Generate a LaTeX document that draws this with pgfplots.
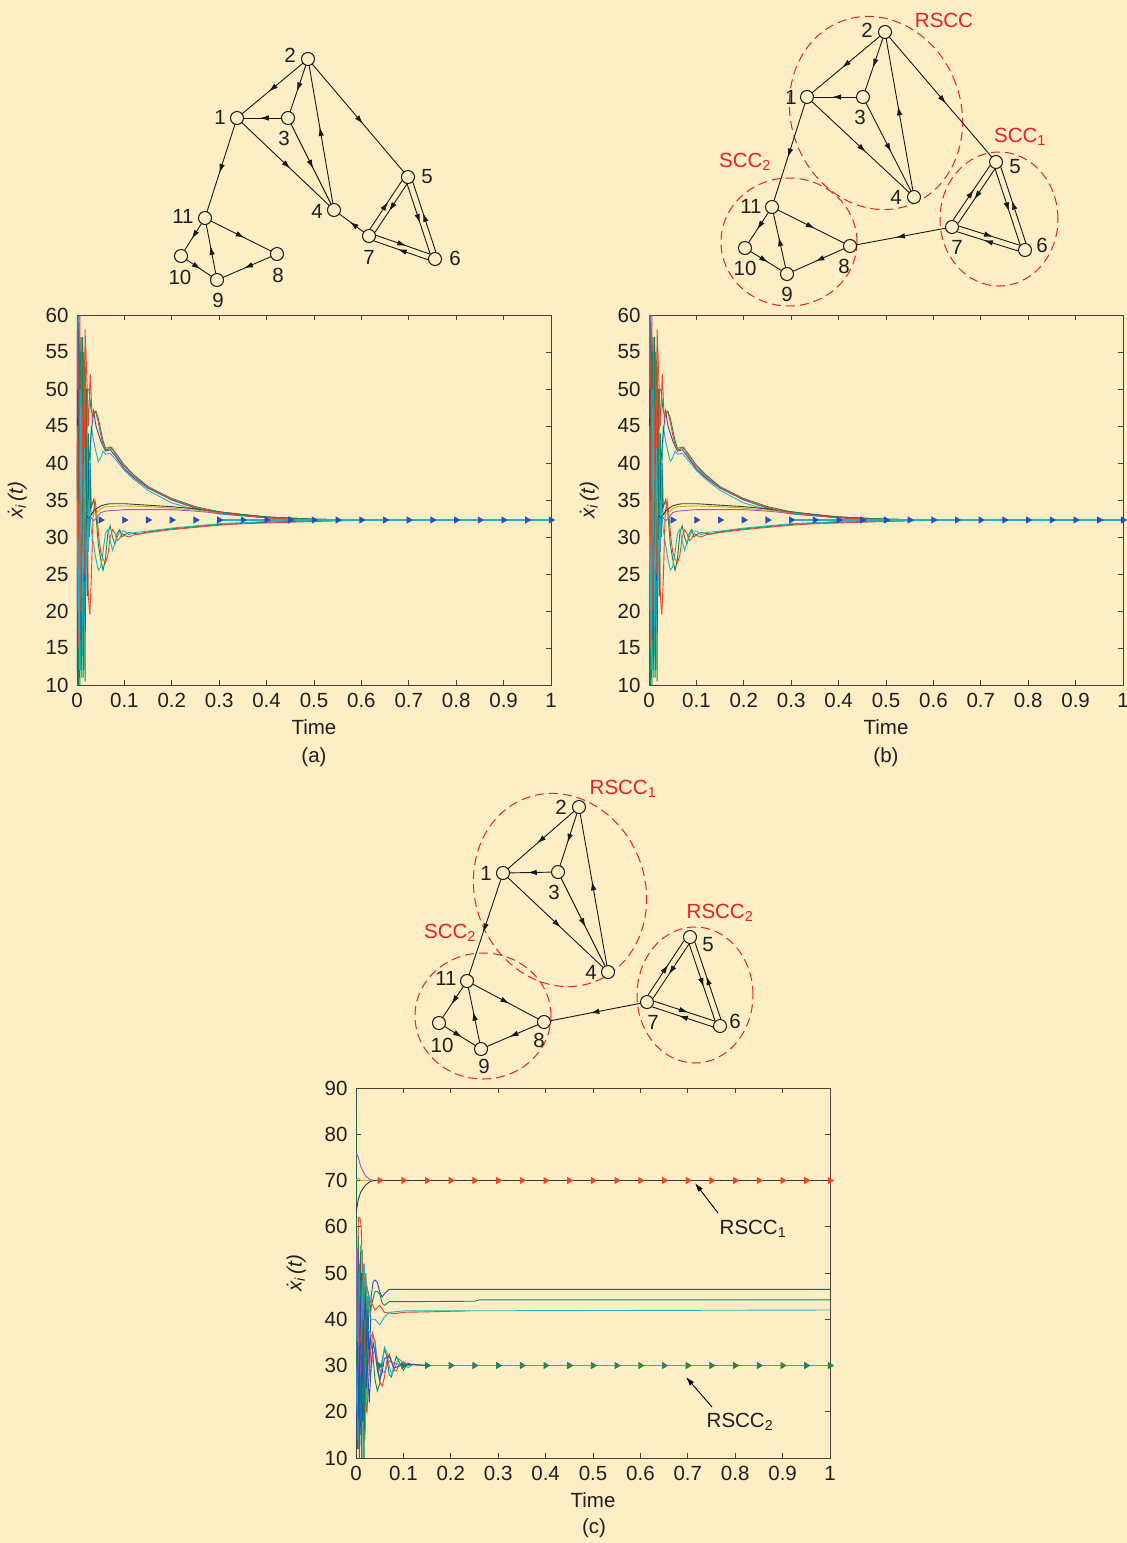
\documentclass[border=0pt]{standalone}
\usepackage{fontspec}
\setmainfont{Liberation Sans}
\usepackage{pgfplots}
\pgfplotsset{compat=1.18}
\usetikzlibrary{decorations.markings,arrows.meta,calc}
\definecolor{bg}{HTML}{FDEEC6}
\definecolor{axc}{HTML}{4A4038}
\definecolor{txt}{HTML}{231F20}
\definecolor{cR}{HTML}{F0452A}
\definecolor{cG}{HTML}{0A8A50}
\definecolor{cB}{HTML}{2A4FB8}
\definecolor{cC}{HTML}{19B5C8}
\definecolor{cM}{HTML}{B050C0}
\definecolor{cO}{HTML}{B5B52A}
\definecolor{cK}{HTML}{3A3A3A}
\definecolor{lred}{HTML}{E8202A}
\newcommand\fs{\fontsize{20.5}{24}\selectfont}
\newcommand\ylab{\textit{ẋ\textsubscript{i}\,(t)}}

\pgfplotsset{pan/.style={scale only axis, width=474pt, height=370pt, xmin=0, xmax=1,
  xtick={0,0.1,0.2,0.3,0.4,0.5,0.6,0.7,0.8,0.9,1}, tick align=inside, tick pos=both,
  major tick length=5pt, axis line style={draw=axc,line width=0.8pt},
  every tick/.style={draw=axc,line width=0.8pt},
  tick label style={font=\fs, text=txt}, label style={font=\fs, text=txt},
  /pgf/number format/assume math mode=true, xticklabel style={/pgf/number format/fixed, yshift=-5pt},
  yticklabel style={xshift=-5pt},
  xlabel={Time}, ylabel={\ylab}, anchor=south west,
  xlabel style={yshift=-5pt}, ylabel style={yshift=12pt},
  every axis plot/.append style={line width=0.9pt}}}
\pgfplotsset{mk/.style={only marks, mark=triangle*, mark size=3.3pt, mark options={rotate=-90}}}

\newcommand\abcurves{%
\addplot[cM] coordinates {(0.0005,20)(0.0025,55)(0.0045,15)(0.0065,50)(0.0085,20)(0.0105,45)(0.013,25)(0.016,40)(0.02,30)(0.024,33)};
\addplot[cO] coordinates {(0.001,58)(0.003,22)(0.005,52)(0.007,26)(0.009,46)(0.012,30)(0.015,38)(0.02,33)};
\addplot[cK] coordinates {(0.0015,12)(0.0035,45)(0.0055,18)(0.0075,42)(0.0095,24)(0.012,38)(0.015,30)(0.02,34)};
\addplot[cB] coordinates {(0.0005,58)(0.002,12)(0.0035,57)(0.005,11)(0.0065,55)(0.008,14)(0.0095,50)(0.011,18)(0.013,47)(0.015,22)(0.018,42)(0.022,30)(0.026,36)(0.03,33)};
\addplot[cG] coordinates {(0,60)(0.002,10)(0.004,59)(0.006,10)(0.008,57)(0.010,11)(0.012,56)(0.014,12)(0.016,54)(0.017,10.5)(0.020,50)(0.022,22)(0.024,44)(0.026,30)(0.028,40)(0.03,34)(0.035,35)(0.04,33)(0.045,29)(0.05,27)(0.055,25.5)(0.06,27)(0.065,30.5)(0.07,31.5)(0.075,30)(0.08,29)(0.085,30.5)(0.09,31)(0.095,30)(0.1,30.3)(0.11,30.6)(0.13,30.4)(0.15,30.7)(0.2,31.1)(0.3,31.7)(0.4,32)(0.5,32.2)(0.6,32.3)};
\addplot[cC] coordinates {(0,12)(0.0015,60)(0.003,10)(0.005,58)(0.007,12)(0.009,55)(0.011,14)(0.013,52)(0.015,18)(0.017,48)(0.019,22)(0.021,44)(0.024,28)(0.027,38)(0.03,45)(0.035,43)(0.04,41.5)(0.045,40.2)(0.05,40.7)(0.055,41.6)(0.06,41.2)(0.07,41.3)(0.08,40.6)(0.1,39)(0.12,37.8)(0.15,36.3)(0.2,34.6)(0.25,33.7)(0.3,33.1)(0.4,32.6)(0.5,32.35)(0.6,32.3)};
\addplot[cB] coordinates {(0,40)(0.001,10)(0.0025,60)(0.004,14)(0.006,56)(0.008,16)(0.01,53)(0.012,20)(0.014,50)(0.016,24)(0.018,45)(0.021,28)(0.025,40)(0.03,44)(0.035,47)(0.04,45)(0.045,44)(0.05,43)(0.06,41.6)(0.07,41.8)(0.08,41)(0.1,39.2)(0.12,38)(0.15,36.6)(0.2,35)(0.25,33.9)(0.3,33.2)(0.4,32.6)(0.5,32.35)(0.6,32.3)};
\addplot[cR] coordinates {(0,30)(0.002,58)(0.004,18)(0.006,60)(0.008,20)(0.01,57)(0.012,22)(0.014,55)(0.016,25)(0.018,53)(0.02,40)(0.024,22)(0.027,19.5)(0.03,24)(0.034,33)(0.038,35)(0.042,33)(0.046,30)(0.05,28)(0.055,27)(0.06,26.5)(0.065,27.5)(0.07,30)(0.075,31)(0.08,30.5)(0.085,29.5)(0.09,29.8)(0.095,30.5)(0.1,30.2)(0.11,30)(0.12,30.3)(0.15,30.6)(0.2,31)(0.25,31.3)(0.3,31.6)(0.35,31.8)(0.4,31.9)(0.5,32.1)(0.6,32.25)(0.7,32.3)};
\addplot[cM] coordinates {(0,55)(0.002,20)(0.004,50)(0.006,25)(0.008,45)(0.010,28)(0.013,38)(0.016,32)(0.02,34)(0.025,33)(0.035,32.2)(0.04,32.5)(0.05,33.3)(0.06,33.5)(0.1,33.7)(0.2,33.7)(0.25,33.5)(0.3,33.2)(0.4,32.7)(0.5,32.4)(0.6,32.3)};
\addplot[cO] coordinates {(0,25)(0.002,48)(0.004,22)(0.006,45)(0.008,28)(0.01,40)(0.013,30)(0.016,36)(0.02,33)(0.03,33)(0.04,33.2)(0.05,33.8)(0.06,34.1)(0.1,34.2)(0.15,34.1)(0.2,33.9)(0.25,33.6)(0.3,33.3)(0.4,32.7)(0.5,32.4)(0.6,32.3)};
\addplot[cK] coordinates {(0,35)(0.002,50)(0.004,30)(0.006,45)(0.008,32)(0.01,40)(0.012,33)(0.015,36)(0.02,33)(0.025,32.5)(0.03,33)(0.035,33.5)(0.04,33.8)(0.05,34.2)(0.06,34.4)(0.07,34.5)(0.1,34.5)(0.15,34.3)(0.2,34.1)(0.25,33.8)(0.3,33.4)(0.35,33)(0.4,32.7)(0.5,32.4)(0.6,32.3)};
\addplot[cG] coordinates {(0.003,10)(0.006,55)(0.009,12)(0.012,57)(0.013,11)(0.016,52)(0.019,30)(0.022,50)(0.025,50)(0.03,47)(0.035,46.5)(0.04,47)(0.045,46)(0.05,44.5)(0.055,43)(0.06,42)(0.07,42.1)(0.08,41.5)(0.1,39.7)(0.12,38.4)(0.15,36.8)(0.2,35.2)(0.25,34.1)(0.3,33.4)(0.4,32.7)(0.5,32.4)(0.6,32.3)};
\addplot[cR] coordinates {(0.001,45)(0.003,15)(0.005,50)(0.008,20)(0.011,48)(0.014,28)(0.017,58)(0.02,53)(0.024,45)(0.028,52)(0.032,46)(0.036,47)(0.04,46.8)(0.045,45.5)(0.05,43.8)(0.055,42.5)(0.06,41.8)(0.065,41.8)(0.07,42.2)(0.075,42)(0.08,41.2)(0.09,40.3)(0.1,39.5)(0.12,38.2)(0.14,37.2)(0.16,36.4)(0.18,35.7)(0.2,35.1)(0.22,34.6)(0.25,34)(0.28,33.5)(0.3,33.3)(0.35,32.9)(0.4,32.6)(0.45,32.45)(0.5,32.35)(0.55,32.3)};
\addplot[cC] coordinates {(0.002,30)(0.005,12)(0.008,50)(0.012,18)(0.016,42)(0.02,26)(0.025,35)(0.03,31)(0.035,29)(0.04,27)(0.045,25.5)(0.05,26)(0.055,28)(0.06,30.5)(0.065,31)(0.07,29.5)(0.075,28.2)(0.08,29.2)(0.09,30.8)(0.1,30.8)(0.11,30.3)(0.12,30.6)(0.15,30.8)(0.2,31.2)(0.3,31.8)(0.4,32.1)(0.5,32.25)(0.6,32.3)};
\addplot[cC, line width=1.4pt] coordinates {(0.3,32.3)(1,32.3)};
\addplot[cB, mk] coordinates {(0.05,32.3)(0.1,32.3)(0.15,32.3)(0.2,32.3)(0.25,32.3)(0.3,32.3)(0.35,32.3)(0.4,32.3)(0.45,32.3)(0.5,32.3)(0.55,32.3)(0.6,32.3)(0.65,32.3)(0.7,32.3)(0.75,32.3)(0.8,32.3)(0.85,32.3)(0.9,32.3)(0.95,32.3)(1,32.3)};
}

\tikzset{
 edge/.style={line width=0.9pt, black!90, shorten >=6.5pt, shorten <=6.5pt},
 arr/.style={postaction={decorate}, decoration={markings, mark=at position #1 with {\arrow{Latex[length=9pt,width=5.5pt]}}}},
 arr/.default=0.55,
 vtx/.style={line width=1pt, black!90, fill=bg},
 num/.style={font=\fs, text=txt, inner sep=0pt},
 red/.style={font=\fs, text=lred, inner sep=0pt},
 rc/.style={lred, line width=1pt, dash pattern=on 9pt off 5pt}
}
\newcommand\E[2]{\draw[edge,arr] (#1) -- (#2);}
\newcommand\D[4]{\draw[edge,arr] ($(#1)!3pt!#3:(#2)$) -- ($(#2)!3pt!#4:(#1)$);}
\newcommand\gedges[2]{%
 \E{#1-2}{#1-1}\E{#1-2}{#1-3}\E{#1-3}{#1-1}\E{#1-1}{#1-4}\E{#1-3}{#1-4}
 \E{#1-4}{#1-2}\E{#1-1}{#1-11}\E{#1-7}{#1-#2}\E{#1-11}{#1-8}\E{#1-8}{#1-9}\E{#1-9}{#1-11}
 \E{#1-11}{#1-10}\E{#1-10}{#1-9}
 \D{#1-7}{#1-5}{90}{-90}\D{#1-5}{#1-7}{90}{-90}
 \D{#1-5}{#1-6}{-90}{90}\D{#1-6}{#1-5}{-90}{90}
 \D{#1-7}{#1-6}{90}{-90}\D{#1-6}{#1-7}{90}{-90}
}
\newcommand\gnodes[1]{\foreach \k in {1,...,11}{\draw[vtx] (#1-\k) circle[radius=6.5pt];}}

\begin{document}
\begin{tikzpicture}
\path[use as bounding box, fill=bg] (0,0) rectangle (1127pt,-1543pt);

\begin{axis}[pan, at={(77pt,-685pt)}, ymin=10, ymax=60, ytick={10,15,...,60}]
\abcurves
\end{axis}
\begin{axis}[pan, at={(649pt,-685pt)}, ymin=10, ymax=60, ytick={10,15,...,60}]
\abcurves
\end{axis}

\begin{axis}[pan, at={(356pt,-1458pt)}, ymin=10, ymax=90, ytick={10,20,...,90}]
\addplot[cG] coordinates {(0,90)(0.001,40)(0.003,12)(0.005,58)(0.007,10)(0.009,56)(0.011,12)(0.013,55)(0.015,10)(0.017,52)(0.019,14)(0.021,50)(0.023,20)(0.025,45)(0.028,30)(0.03,36)(0.035,33)(0.04,27)(0.045,24.5)(0.05,26)(0.055,31)(0.06,33.5)(0.065,32)(0.07,28)(0.075,27.5)(0.08,30)(0.085,32)(0.09,31)(0.1,29)(0.11,30.5)(0.12,30.2)(0.15,30)(0.2,30)};
\addplot[cB] coordinates {(0,50)(0.002,15)(0.004,55)(0.006,12)(0.008,52)(0.01,15)(0.012,50)(0.014,18)(0.016,48)(0.018,20)(0.02,45)(0.022,25)(0.025,42)(0.028,28)(0.032,45)(0.036,48)(0.04,48.5)(0.045,48)(0.05,46)(0.055,44.8)(0.06,45.5)(0.07,46.5)(1,46.5)};
\addplot[cC] coordinates {(0,20)(0.002,52)(0.004,14)(0.006,50)(0.008,18)(0.01,47)(0.013,22)(0.016,45)(0.02,28)(0.025,38)(0.03,37)(0.035,36)(0.04,35.5)(0.045,31)(0.05,27)(0.055,30)(0.06,34)(0.065,33)(0.07,30)(0.075,28)(0.08,29)(0.09,31.5)(0.1,30.5)(0.11,29.5)(0.12,30.3)(0.15,30)};
\addplot[cR] coordinates {(0.002,40)(0.005,62)(0.008,62)(0.011,60)(0.013,52)(0.016,45)(0.018,35)(0.02,22)(0.023,20)(0.026,25)(0.03,32)(0.035,37)(0.04,35)(0.045,30)(0.05,26.5)(0.055,25.5)(0.06,27.5)(0.065,31)(0.07,32.5)(0.075,31)(0.08,29)(0.085,28.8)(0.09,30)(0.1,30.8)(0.11,30)(0.12,30.2)(0.15,30)(0.2,30)};
\addplot[cG] coordinates {(0.001,30)(0.004,50)(0.007,12)(0.01,48)(0.012,10)(0.014,50)(0.017,10)(0.02,47)(0.023,30)(0.026,46)(0.03,42)(0.035,44)(0.04,46)(0.045,46)(0.05,45.5)(0.055,43.5)(0.06,43)(0.07,43.8)(0.1,43.8)(0.25,43.9)(0.26,44.2)(1,44.2)};
\addplot[cM] coordinates {(0.001,55)(0.004,25)(0.007,50)(0.01,28)(0.013,48)(0.016,40)(0.02,40)(0.025,32)(0.03,28)(0.035,32)(0.04,33.5)(0.05,29)(0.06,28.5)(0.07,31)(0.08,30.5)(0.1,30)};
\addplot[cB] coordinates {(0.003,35)(0.006,18)(0.009,45)(0.012,22)(0.016,38)(0.02,45)(0.024,30)(0.028,22)(0.032,30)(0.036,35)(0.04,33)(0.045,29)(0.05,27)(0.055,28.5)(0.06,31.5)(0.07,32)(0.08,29.5)(0.09,29.8)(0.1,30.3)(0.15,30)};
\addplot[cR] coordinates {(0.01,35)(0.015,50)(0.02,48)(0.025,46)(0.03,44)(0.04,42)(0.05,43)(0.06,41.5)(0.08,41.2)(0.1,41.5)(0.15,41.6)(0.23,41.8)};
\addplot[cC] coordinates {(0.012,40)(0.016,52)(0.02,49)(0.025,46)(0.03,40)(0.035,40)(0.04,40)(0.05,38.8)(0.06,40.5)(0.07,41.5)(0.1,41.8)(1,42)};
\addplot[cO] coordinates {(0,70)(0.005,70.5)(0.01,70)(0.02,70)(0.03,70)};
\addplot[cM] coordinates {(0,76)(0.005,75)(0.01,73)(0.02,71)(0.03,70.2)(0.04,70)};
\addplot[cK] coordinates {(0,63)(0.005,66)(0.01,67.5)(0.02,69)(0.03,69.8)(0.04,70)(1,70)};
\addplot[cB, line width=1.3pt] coordinates {(0.07,46.5)(1,46.5)};
\addplot[cC, line width=1.2pt] coordinates {(0.15,30)(1,30)};
\addplot[cR, mk] coordinates {(0.05,70)(0.1,70)(0.15,70)(0.2,70)(0.25,70)(0.3,70)(0.35,70)(0.4,70)(0.45,70)(0.5,70)(0.55,70)(0.6,70)(0.65,70)(0.7,70)(0.75,70)(0.8,70)(0.85,70)(0.9,70)(0.95,70)(1,70)};
\addplot[cG, mk] coordinates {(0.05,30)(0.1,30)(0.15,30)(0.2,30)(0.25,30)(0.3,30)(0.35,30)(0.4,30)(0.45,30)(0.5,30)(0.55,30)(0.6,30)(0.65,30)(0.7,30)(0.75,30)(0.8,30)(0.85,30)(0.9,30)(0.95,30)(1,30)};
\end{axis}

\begin{scope}[x=1pt,y=-1pt]
\node[num] at (314,757) {(a)};
\node[num] at (886,757) {(b)};
\node[num] at (594,1528) {(c)};
\draw[line width=0.9pt, -{Latex[length=9pt,width=5.5pt]}] (718,1213) -- (695,1183);
\node[num] at (753,1229) {RSCC\textsubscript{1}};
\draw[line width=0.9pt, -{Latex[length=9pt,width=5.5pt]}] (712,1407) -- (686,1377);
\node[num] at (740,1422) {RSCC\textsubscript{2}};

% graph (a)
\coordinate (a-1) at (237,118); \coordinate (a-2) at (308,59); \coordinate (a-3) at (288,118);
\coordinate (a-4) at (334,210); \coordinate (a-5) at (408,177); \coordinate (a-6) at (435,259);
\coordinate (a-7) at (369,236); \coordinate (a-8) at (277,254); \coordinate (a-9) at (217,280);
\coordinate (a-10) at (181,256); \coordinate (a-11) at (205,218);
\gedges{a}{4}\E{a-2}{a-5}\gnodes{a}
\node[num] at (220,117) {1}; \node[num] at (290,55) {2}; \node[num] at (284,138) {3};
\node[num] at (317,211) {4}; \node[num] at (427,177) {5}; \node[num] at (455,258) {6};
\node[num] at (369,257) {7}; \node[num] at (278,275) {8}; \node[num] at (218,300) {9};
\node[num] at (180,277) {10}; \node[num] at (183,216) {11};

% graph (b)
\coordinate (b-1) at (807,97); \coordinate (b-2) at (885,32); \coordinate (b-3) at (863,97);
\coordinate (b-4) at (914,197); \coordinate (b-5) at (996,162); \coordinate (b-6) at (1025,250);
\coordinate (b-7) at (952,227); \coordinate (b-8) at (850,246); \coordinate (b-9) at (787,274);
\coordinate (b-10) at (745,248); \coordinate (b-11) at (772,207);
\draw[rc, rotate around={20:(876,113)}] (876,113) ellipse [x radius=85pt, y radius=98pt];
\draw[rc] (789,242) ellipse [x radius=68pt, y radius=64pt];
\draw[rc] (999,219) ellipse [x radius=59pt, y radius=67pt];
\gedges{b}{8}\E{b-2}{b-5}\gnodes{b}
\node[num] at (791,97) {1}; \node[num] at (867,30) {2}; \node[num] at (860,117) {3};
\node[num] at (896,197) {4}; \node[num] at (1015,167) {5}; \node[num] at (1042,245) {6};
\node[num] at (957,247) {7}; \node[num] at (844,266) {8}; \node[num] at (787,294) {9};
\node[num] at (745,268) {10}; \node[num] at (751,206) {11};
\node[red] at (944,20) {RSCC};
\node[red] at (1020,137) {SCC\textsubscript{1}};
\node[red] at (745,162) {SCC\textsubscript{2}};

% graph (c)
\coordinate (c-1) at (503,873); \coordinate (c-2) at (579,807); \coordinate (c-3) at (558,872);
\coordinate (c-4) at (608,972); \coordinate (c-5) at (690,937); \coordinate (c-6) at (720,1026);
\coordinate (c-7) at (647,1002); \coordinate (c-8) at (544,1022); \coordinate (c-9) at (481,1049);
\coordinate (c-10) at (439,1023); \coordinate (c-11) at (467,981);
\draw[rc, rotate around={20:(560,890)}] (560,890) ellipse [x radius=85pt, y radius=98pt];
\draw[rc] (483,1016) ellipse [x radius=68pt, y radius=63pt];
\draw[rc] (695,995) ellipse [x radius=58pt, y radius=68pt];
\gedges{c}{8}\gnodes{c}
\node[num] at (486,873) {1}; \node[num] at (561,807) {2}; \node[num] at (554,892) {3};
\node[num] at (591,972) {4}; \node[num] at (708,945) {5}; \node[num] at (735,1021) {6};
\node[num] at (653,1022) {7}; \node[num] at (539,1040) {8}; \node[num] at (484,1066) {9};
\node[num] at (442,1045) {10}; \node[num] at (446,978) {11};
\node[red] at (623,789) {RSCC\textsubscript{1}};
\node[red] at (720,913) {RSCC\textsubscript{2}};
\node[red] at (450,933) {SCC\textsubscript{2}};
\end{scope}
\end{tikzpicture}
\end{document}
